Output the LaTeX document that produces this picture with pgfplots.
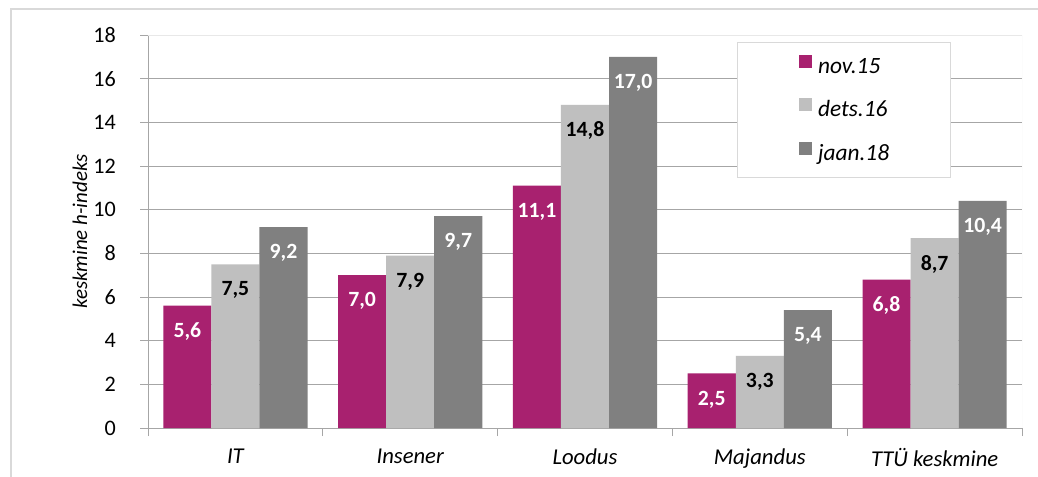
\documentclass[border=0pt]{standalone}
\usepackage{fontspec}
\setmainfont{Carlito}
\usepackage{pgfplots}
\pgfplotsset{compat=1.18}
\definecolor{cmag}{HTML}{A8216F}
\definecolor{clight}{HTML}{BFBFBF}
\definecolor{cdark}{HTML}{808080}
\definecolor{cgrid}{HTML}{A6A6A6}
\definecolor{cframe}{HTML}{E8E8E8}
\definecolor{couter}{HTML}{D9D9D9}
\begin{document}
\begin{tikzpicture}
\useasboundingbox (0,0) rectangle (778.5pt,357pt);
\fill[white] (0,0) rectangle (778.5pt,357pt);
\clip (0,0) rectangle (778.5pt,357pt);
\draw[couter, line width=1.2pt] (8.25pt,-20pt) rectangle (800pt,350.25pt);
\begin{axis}[
  at={(111pt,36pt)}, anchor=south west,
  scale only axis, width=655.5pt, height=294.75pt,
  xmin=-0.5, xmax=4.5, ymin=0, ymax=18,
  ybar, bar width=0.275,
  axis x line*=bottom, axis y line*=left,
  axis line style={cgrid, line width=0.75pt},
  tick align=outside,
  major tick length=6pt,
  tick style={cgrid, line width=0.75pt},
  ytick={0,2,...,18},
  ymajorgrids,
  major grid style={cgrid, line width=0.75pt},
  xtick={-0.5,0.5,...,4.5},
  xticklabels={},
  extra x ticks={0,1,2,3,4},
  extra x tick labels={IT,Insener,Loodus,Majandus,TTÜ keskmine},
  extra x tick style={major tick length=0pt, xmajorgrids=false},
  /pgf/number format/assume math mode=true,
  yticklabel style={text=black, anchor=east, inner sep=0pt, font=\fontsize{16.6}{19}\selectfont, xshift=-18pt},
  xticklabel style={font=\fontsize{17}{20}\selectfont\itshape, yshift=-12pt},
  ylabel={keskmine h-indeks},
  every axis y label/.style={at={(rel axis cs:0,0.5)}, xshift=-51pt, rotate=90, anchor=center, font=\fontsize{15.7}{19}\selectfont\itshape},
  nodes near coords={\pgfmathprintnumber[use comma,fixed,fixed zerofill,precision=1,assume math mode=true]{\pgfplotspointmeta}},
  every node near coord/.append style={font=\fontsize{16.3}{19}\selectfont\bfseries, anchor=center, yshift=-19.5pt},
  legend style={at={(0.674,0.982)}, anchor=north west, draw=couter, line width=0.9pt, fill=white,
    inner xsep=46pt, inner ysep=9pt, row sep=15pt,
    font=\fontsize{17.5}{21}\selectfont\itshape,
    nodes={inner sep=0pt, text height=12pt, text depth=4pt}},
  legend cell align=left,
  legend image code/.code={\fill[#1] (0pt,0pt) rectangle (9.75pt,9.75pt); \path (14.25pt,0pt);},
]
\addplot[fill=cmag, draw=none, bar shift=-0.275, every node near coord/.append style={text=white}]
  coordinates {(0,5.6) (1,7.0) (2,11.1) (3,2.5) (4,6.8)};
\addplot[fill=clight, draw=none, bar shift=0, every node near coord/.append style={text=black}]
  coordinates {(0,7.5) (1,7.9) (2,14.8) (3,3.3) (4,8.7)};
\addplot[fill=cdark, draw=none, bar shift=0.275, every node near coord/.append style={text=white}]
  coordinates {(0,9.2) (1,9.7) (2,17.0) (3,5.4) (4,10.4)};
\draw[cframe, line width=0.75pt] (rel axis cs:0,1) -- (rel axis cs:1,1) -- (rel axis cs:1,0);
\legend{nov.15, dets.16, jaan.18}
\end{axis}
\end{tikzpicture}
\end{document}
